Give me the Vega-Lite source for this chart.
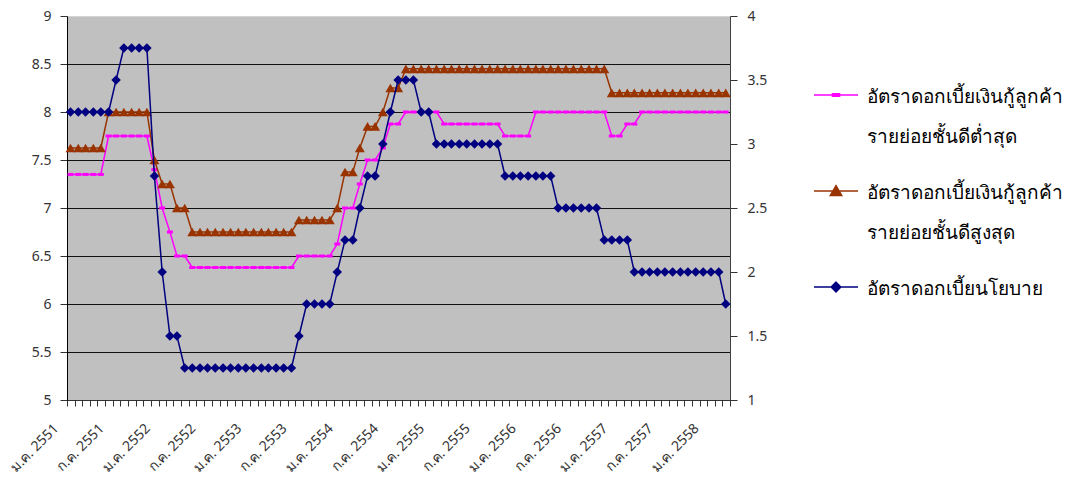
{
  "$schema": "https://vega.github.io/schema/vega-lite/v6.json",
  "width": 663,
  "height": 384,
  "autosize": {"type": "none"},
  "padding": {"left": 67, "top": 16, "right": 342, "bottom": 82},
  "background": "#ffffff",
  "config": {
    "font": "Noto Sans",
    "view": {"fill": "#C0C0C0", "stroke": "#D4D4D4"}
  },
  "data": {
    "values": [
      {"m": "2008-01-15", "mn": 7.35, "mx": 7.625, "p": 3.25},
      {"m": "2008-02-15", "mn": 7.35, "mx": 7.625, "p": 3.25},
      {"m": "2008-03-15", "mn": 7.35, "mx": 7.625, "p": 3.25},
      {"m": "2008-04-15", "mn": 7.35, "mx": 7.625, "p": 3.25},
      {"m": "2008-05-15", "mn": 7.35, "mx": 7.625, "p": 3.25},
      {"m": "2008-06-15", "mn": 7.75, "mx": 8.0, "p": 3.25},
      {"m": "2008-07-15", "mn": 7.75, "mx": 8.0, "p": 3.5},
      {"m": "2008-08-15", "mn": 7.75, "mx": 8.0, "p": 3.75},
      {"m": "2008-09-15", "mn": 7.75, "mx": 8.0, "p": 3.75},
      {"m": "2008-10-15", "mn": 7.75, "mx": 8.0, "p": 3.75},
      {"m": "2008-11-15", "mn": 7.75, "mx": 8.0, "p": 3.75},
      {"m": "2008-12-15", "mn": 7.4, "mx": 7.5, "p": 2.75},
      {"m": "2009-01-15", "mn": 7.0, "mx": 7.25, "p": 2.0},
      {"m": "2009-02-15", "mn": 6.75, "mx": 7.25, "p": 1.5},
      {"m": "2009-03-15", "mn": 6.5, "mx": 7.0, "p": 1.5},
      {"m": "2009-04-15", "mn": 6.5, "mx": 7.0, "p": 1.25},
      {"m": "2009-05-15", "mn": 6.38, "mx": 6.75, "p": 1.25},
      {"m": "2009-06-15", "mn": 6.38, "mx": 6.75, "p": 1.25},
      {"m": "2009-07-15", "mn": 6.38, "mx": 6.75, "p": 1.25},
      {"m": "2009-08-15", "mn": 6.38, "mx": 6.75, "p": 1.25},
      {"m": "2009-09-15", "mn": 6.38, "mx": 6.75, "p": 1.25},
      {"m": "2009-10-15", "mn": 6.38, "mx": 6.75, "p": 1.25},
      {"m": "2009-11-15", "mn": 6.38, "mx": 6.75, "p": 1.25},
      {"m": "2009-12-15", "mn": 6.38, "mx": 6.75, "p": 1.25},
      {"m": "2010-01-15", "mn": 6.38, "mx": 6.75, "p": 1.25},
      {"m": "2010-02-15", "mn": 6.38, "mx": 6.75, "p": 1.25},
      {"m": "2010-03-15", "mn": 6.38, "mx": 6.75, "p": 1.25},
      {"m": "2010-04-15", "mn": 6.38, "mx": 6.75, "p": 1.25},
      {"m": "2010-05-15", "mn": 6.38, "mx": 6.75, "p": 1.25},
      {"m": "2010-06-15", "mn": 6.38, "mx": 6.75, "p": 1.25},
      {"m": "2010-07-15", "mn": 6.5, "mx": 6.875, "p": 1.5},
      {"m": "2010-08-15", "mn": 6.5, "mx": 6.875, "p": 1.75},
      {"m": "2010-09-15", "mn": 6.5, "mx": 6.875, "p": 1.75},
      {"m": "2010-10-15", "mn": 6.5, "mx": 6.875, "p": 1.75},
      {"m": "2010-11-15", "mn": 6.5, "mx": 6.875, "p": 1.75},
      {"m": "2010-12-15", "mn": 6.625, "mx": 7.0, "p": 2.0},
      {"m": "2011-01-15", "mn": 7.0, "mx": 7.375, "p": 2.25},
      {"m": "2011-02-15", "mn": 7.0, "mx": 7.375, "p": 2.25},
      {"m": "2011-03-15", "mn": 7.25, "mx": 7.625, "p": 2.5},
      {"m": "2011-04-15", "mn": 7.5, "mx": 7.85, "p": 2.75},
      {"m": "2011-05-15", "mn": 7.5, "mx": 7.85, "p": 2.75},
      {"m": "2011-06-15", "mn": 7.625, "mx": 8.0, "p": 3.0},
      {"m": "2011-07-15", "mn": 7.875, "mx": 8.25, "p": 3.25},
      {"m": "2011-08-15", "mn": 7.875, "mx": 8.25, "p": 3.5},
      {"m": "2011-09-15", "mn": 8.0, "mx": 8.45, "p": 3.5},
      {"m": "2011-10-15", "mn": 8.0, "mx": 8.45, "p": 3.5},
      {"m": "2011-11-15", "mn": 8.0, "mx": 8.45, "p": 3.25},
      {"m": "2011-12-15", "mn": 8.0, "mx": 8.45, "p": 3.25},
      {"m": "2012-01-15", "mn": 8.0, "mx": 8.45, "p": 3.0},
      {"m": "2012-02-15", "mn": 7.875, "mx": 8.45, "p": 3.0},
      {"m": "2012-03-15", "mn": 7.875, "mx": 8.45, "p": 3.0},
      {"m": "2012-04-15", "mn": 7.875, "mx": 8.45, "p": 3.0},
      {"m": "2012-05-15", "mn": 7.875, "mx": 8.45, "p": 3.0},
      {"m": "2012-06-15", "mn": 7.875, "mx": 8.45, "p": 3.0},
      {"m": "2012-07-15", "mn": 7.875, "mx": 8.45, "p": 3.0},
      {"m": "2012-08-15", "mn": 7.875, "mx": 8.45, "p": 3.0},
      {"m": "2012-09-15", "mn": 7.875, "mx": 8.45, "p": 3.0},
      {"m": "2012-10-15", "mn": 7.75, "mx": 8.45, "p": 2.75},
      {"m": "2012-11-15", "mn": 7.75, "mx": 8.45, "p": 2.75},
      {"m": "2012-12-15", "mn": 7.75, "mx": 8.45, "p": 2.75},
      {"m": "2013-01-15", "mn": 7.75, "mx": 8.45, "p": 2.75},
      {"m": "2013-02-15", "mn": 8.0, "mx": 8.45, "p": 2.75},
      {"m": "2013-03-15", "mn": 8.0, "mx": 8.45, "p": 2.75},
      {"m": "2013-04-15", "mn": 8.0, "mx": 8.45, "p": 2.75},
      {"m": "2013-05-15", "mn": 8.0, "mx": 8.45, "p": 2.5},
      {"m": "2013-06-15", "mn": 8.0, "mx": 8.45, "p": 2.5},
      {"m": "2013-07-15", "mn": 8.0, "mx": 8.45, "p": 2.5},
      {"m": "2013-08-15", "mn": 8.0, "mx": 8.45, "p": 2.5},
      {"m": "2013-09-15", "mn": 8.0, "mx": 8.45, "p": 2.5},
      {"m": "2013-10-15", "mn": 8.0, "mx": 8.45, "p": 2.5},
      {"m": "2013-11-15", "mn": 8.0, "mx": 8.45, "p": 2.25},
      {"m": "2013-12-15", "mn": 7.75, "mx": 8.2, "p": 2.25},
      {"m": "2014-01-15", "mn": 7.75, "mx": 8.2, "p": 2.25},
      {"m": "2014-02-15", "mn": 7.875, "mx": 8.2, "p": 2.25},
      {"m": "2014-03-15", "mn": 7.875, "mx": 8.2, "p": 2.0},
      {"m": "2014-04-15", "mn": 8.0, "mx": 8.2, "p": 2.0},
      {"m": "2014-05-15", "mn": 8.0, "mx": 8.2, "p": 2.0},
      {"m": "2014-06-15", "mn": 8.0, "mx": 8.2, "p": 2.0},
      {"m": "2014-07-15", "mn": 8.0, "mx": 8.2, "p": 2.0},
      {"m": "2014-08-15", "mn": 8.0, "mx": 8.2, "p": 2.0},
      {"m": "2014-09-15", "mn": 8.0, "mx": 8.2, "p": 2.0},
      {"m": "2014-10-15", "mn": 8.0, "mx": 8.2, "p": 2.0},
      {"m": "2014-11-15", "mn": 8.0, "mx": 8.2, "p": 2.0},
      {"m": "2014-12-15", "mn": 8.0, "mx": 8.2, "p": 2.0},
      {"m": "2015-01-15", "mn": 8.0, "mx": 8.2, "p": 2.0},
      {"m": "2015-02-15", "mn": 8.0, "mx": 8.2, "p": 2.0},
      {"m": "2015-03-15", "mn": 8.0, "mx": 8.2, "p": 1.75}
    ]
  },
  "encoding": {
    "x": {
      "field": "m",
      "type": "temporal",
      "scale": {
        "type": "utc",
        "domain": [
          {"year": 2008, "month": 1, "date": 1, "utc": true},
          {"year": 2015, "month": 4, "date": 1, "utc": true}
        ]
      },
      "axis": {
        "title": null,
        "grid": false,
        "tickCount": {"interval": "month", "step": 1},
        "labelExpr": "utcmonth(datum.value) == 0 ? 'ม.ค. ' + (utcyear(datum.value) + 543) : (utcmonth(datum.value) == 6 ? 'ก.ค. ' + (utcyear(datum.value) + 543) : '')",
        "labelAngle": -45,
        "labelAlign": "right",
        "labelBaseline": "middle",
        "labelPadding": 20,
        "labelOffset": -11,
        "labelFlush": false,
        "labelOverlap": false,
        "labelBound": false,
        "labelFontSize": 14,
        "labelColor": "#333333",
        "tickSize": 6,
        "tickColor": "#333333",
        "domainColor": "#333333"
      }
    }
  },
  "layer": [
    {
      "encoding": {
        "y": {
          "type": "quantitative",
          "scale": {"domain": [5, 9], "nice": false, "zero": false},
          "axis": {
            "title": null,
            "orient": "left",
            "values": [5, 5.5, 6, 6.5, 7, 7.5, 8, 8.5, 9],
            "format": ".1~f",
            "grid": true,
            "gridColor": {"condition": {"test": "datum.value == 9", "value": "#D4D4D4"}, "value": "#111111"},
            "gridWidth": 1,
            "gridOpacity": 1,
            "tickSize": 7,
            "tickColor": "#333333",
            "labelPadding": 9,
            "labelFontSize": 14,
            "labelColor": "#333333",
            "domainColor": "#000000"
          }
        }
      },
      "layer": [
        {
          "mark": {"type": "line", "strokeWidth": 1.5},
          "encoding": {
            "y": {"field": "mn", "type": "quantitative"},
            "color": {
              "datum": "อัตราดอกเบี้ยเงินกู้ลูกค้า รายย่อยชั้นดีต่ำสุด",
              "type": "nominal",
              "scale": {
                "domain": ["อัตราดอกเบี้ยเงินกู้ลูกค้า รายย่อยชั้นดีต่ำสุด", "อัตราดอกเบี้ยเงินกู้ลูกค้า รายย่อยชั้นดีสูงสุด", "อัตราดอกเบี้ยนโยบาย"],
                "range": ["#FF00FF", "#993300", "#000080"]
              },
              "legend": {
                "orient": "none",
                "legendX": 746,
                "legendY": 56,
                "title": null,
                "symbolSize": 1936,
                "symbolStrokeWidth": 1.5,
                "labelFontSize": 19,
                "labelColor": "#000000",
                "labelLimit": 400,
                "labelOffset": 8,
                "rowPadding": 21,
                "labelBaseline": "top",
                "labelExpr": "split(datum.label, ' ')",
                "encode": {
                  "symbols": {
                    "update": {
                      "shape": {"signal": "datum.value == 'อัตราดอกเบี้ยนโยบาย' ? 'M-1,0H1M0,-0.22L0.22,0L0,0.22L-0.22,0Z' : (datum.value == 'อัตราดอกเบี้ยเงินกู้ลูกค้า รายย่อยชั้นดีสูงสุด' ? 'M-1,0H1M0,-0.24L0.26,0.2H-0.26Z' : 'M-1,0H1M-0.16,-0.06H0.16V0.06H-0.16Z')"},
                      "fill": {"scale": "color", "field": "value"},
                      "stroke": {"scale": "color", "field": "value"},
                      "opacity": {"value": 1}
                    }
                  },
                  "labels": {
                    "update": {
                      "dy": {"value": -7},
                      "lineHeight": {"value": 40}
                    }
                  }
                }
              }
            }
          }
        },
        {
          "mark": {"type": "point", "shape": "M-1,-0.5H1V0.5H-1Z", "size": 36, "filled": true, "opacity": 1},
          "encoding": {
            "y": {"field": "mn", "type": "quantitative"},
            "color": {"datum": "อัตราดอกเบี้ยเงินกู้ลูกค้า รายย่อยชั้นดีต่ำสุด", "type": "nominal"}
          }
        },
        {
          "mark": {"type": "line", "strokeWidth": 1.5},
          "encoding": {
            "y": {"field": "mx", "type": "quantitative"},
            "color": {"datum": "อัตราดอกเบี้ยเงินกู้ลูกค้า รายย่อยชั้นดีสูงสุด", "type": "nominal"}
          }
        },
        {
          "mark": {"type": "point", "shape": "triangle-up", "size": 100, "filled": true, "opacity": 1},
          "encoding": {
            "y": {"field": "mx", "type": "quantitative"},
            "color": {"datum": "อัตราดอกเบี้ยเงินกู้ลูกค้า รายย่อยชั้นดีสูงสุด", "type": "nominal"}
          }
        }
      ]
    },
    {
      "encoding": {
        "y": {
          "field": "p",
          "type": "quantitative",
          "scale": {"domain": [1, 4], "nice": false, "zero": false},
          "axis": {
            "title": null,
            "orient": "right",
            "values": [1, 1.5, 2, 2.5, 3, 3.5, 4],
            "format": ".1~f",
            "grid": false,
            "tickSize": 7,
            "tickColor": "#333333",
            "labelPadding": 10,
            "labelFontSize": 14,
            "labelColor": "#333333",
            "domainColor": "#404040"
          }
        },
        "color": {"datum": "อัตราดอกเบี้ยนโยบาย", "type": "nominal"}
      },
      "layer": [
        {"mark": {"type": "line", "strokeWidth": 1.5}},
        {"mark": {"type": "point", "shape": "diamond", "size": 90, "filled": true, "opacity": 1}}
      ]
    }
  ],
  "resolve": {"scale": {"y": "independent"}}
}
